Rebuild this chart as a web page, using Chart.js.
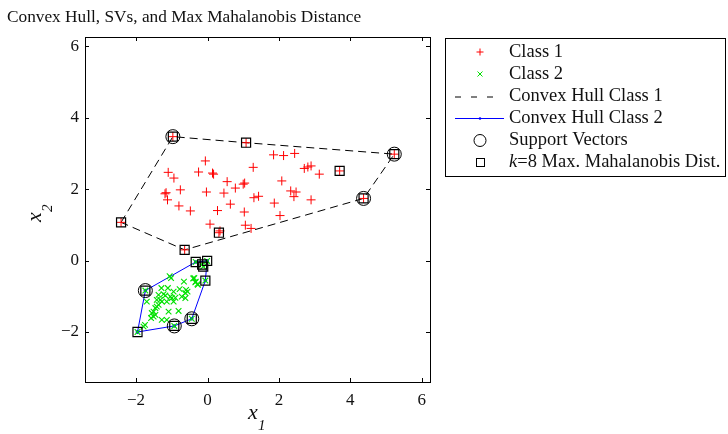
<!DOCTYPE html>
<html>
<head>
<meta charset="utf-8">
<script src="https://cdn.jsdelivr.net/npm/chart.js@4/dist/chart.umd.min.js"></script>
<style>
  html, body { margin: 0; padding: 0; background: #fff; }
  #wrap { position: relative; width: 728px; height: 434px; }
</style>
</head>
<body>
<div id="wrap"><canvas id="chart" width="728" height="434"></canvas></div>
<script>
// class 1 samples
let class1X = [1.85, 2.13, 2.44, -0.06, -1.10, -0.94, -0.25, 0.14, 0.17, 1.28, 2.71, 2.81, 2.90, 3.13,
  0.55, 1.00, 1.04, 0.78, 2.08, -0.76, -0.03, 0.46, -1.19, -1.16, -1.12, -0.80, -0.48, 0.28, 0.64,
  1.03, 1.30, 1.43, 1.87, 2.03, 2.33, 2.48, 2.42, 2.90, 0.07, 0.35, 1.06, 1.22,
  -0.97, 1.08, 5.23, 4.37, 0.32, -0.64, -2.42, 3.70]
let class1Y = [2.96, 2.94, 3.00, 2.79, 2.47, 2.31, 2.48, 2.45, 2.42, 2.61, 2.58, 2.62, 2.65, 2.42,
  2.21, 2.14, 2.17, 2.03, 2.23, 1.98, 1.92, 1.89, 1.87, 1.90, 1.70, 1.53, 1.39, 1.40, 1.58,
  1.36, 1.76, 1.80, 1.61, 1.26, 1.95, 1.92, 1.79, 1.70, 1.02, 0.83, 0.99, 0.90,
  3.47, 3.30, 2.98, 1.74, 0.78, 0.30, 1.07, 2.51]

// class 2 samples
let class2X = [-1.02, -0.66, -0.37, -0.33, -0.27, -1.29, -1.11, -0.95, -0.78, -0.60, -0.56, -0.62,
  -1.37, -1.23, -1.18, -1.04, -1.00, -0.90, -0.72, -0.62, -1.42, -1.32, -1.28, -1.14, -0.95,
  -1.37, -1.42, -1.46, -1.51, -1.56, -1.46, -1.51, -1.58, -1.09, -0.81, -1.14, -1.28, -1.75, -1.79,
  -1.70, -1.06, -0.40, -0.34, -0.28,
  -1.96, -1.74, -0.33, -0.01, -0.06, -0.44, -0.93, -0.15, -0.12]
let class2Y = [-0.49, -0.59, -0.49, -0.59, -0.68, -0.77, -0.77, -0.87, -0.80, -0.82, -0.87, -0.91,
  -0.96, -0.94, -0.98, -1.01, -1.05, -1.04, -1.01, -1.05, -1.10, -1.10, -1.15, -1.15, -1.15,
  -1.24, -1.29, -1.33, -1.43, -1.47, -1.52, -1.57, -1.61, -1.43, -1.41, -1.66, -1.66, -1.80, -1.85,
  -1.15, -0.44, -0.50, -0.61, -0.66,
  -2.00, -0.84, -0.04, -0.01, -0.56, -1.63, -1.83, -0.11, -0.17]

// convex hulls (closed)
let hull1X = [-2.42, -0.97, 1.08, 5.23, 4.37, -0.64, -2.42]
let hull1Y = [1.07, 3.47, 3.30, 2.98, 1.74, 0.30, 1.07]
let hull2X = [-1.96, -1.74, -0.33, -0.01, -0.06, -0.44, -0.93, -1.96]
let hull2Y = [-2.00, -0.84, -0.04, -0.01, -0.56, -1.63, -1.83, -2.00]

// support vectors
let svX = [-0.97, 5.23, 4.37, -1.74, -0.44, -0.93]
let svY = [3.47, 2.98, 1.74, -0.84, -1.63, -1.83]

// k=8 max mahalanobis distance points
let mahalX = [-0.97, 1.08, 5.23, 4.37, 0.32, -0.64, -2.42, 3.70,
  -1.96, -1.74, -0.33, -0.01, -0.06, -0.44, -0.93, -0.15, -0.12]
let mahalY = [3.47, 3.30, 2.98, 1.74, 0.78, 0.30, 1.07, 2.51,
  -2.00, -0.84, -0.04, -0.01, -0.56, -1.63, -1.83, -0.11, -0.17]

let tickVals = [-2, 0, 2, 4, 6]
let legendLabels = ['Class 1', 'Class 2', 'Convex Hull Class 1', 'Convex Hull Class 2', 'Support Vectors', '=8 Max. Mahalanobis Dist.']

function pts(xs, ys) {
  return xs.map((x, i) => ({ x: x, y: ys[i] }))
}

const SERIF = '"Liberation Serif", "DejaVu Serif", serif'
const RED = 'rgb(255,0,0)'
const GREEN = 'rgb(0,225,0)'
const BLUE = 'rgb(0,0,255)'

let data = {
  datasets: [{
    label: 'Class 1',
    data: pts(class1X, class1Y),
    pointStyle: 'cross',
    pointRadius: 4.5,
    borderColor: RED,
    borderWidth: 1,
    showLine: false,
    order: 3
  }, {
    label: 'Class 2',
    data: pts(class2X, class2Y),
    pointStyle: 'crossRot',
    pointRadius: 4,
    borderColor: GREEN,
    borderWidth: 1.1,
    showLine: false,
    order: 4
  }, {
    label: 'Convex Hull Class 1',
    data: pts(hull1X, hull1Y),
    showLine: true,
    borderColor: '#000',
    borderWidth: 1,
    borderDash: [8, 5],
    pointRadius: 0,
    order: 5
  }, {
    label: 'Convex Hull Class 2',
    data: pts(hull2X, hull2Y),
    showLine: true,
    borderColor: BLUE,
    borderWidth: 1,
    pointRadius: 1.3,
    pointBackgroundColor: BLUE,
    pointBorderColor: BLUE,
    order: 5
  }, {
    label: 'Support Vectors',
    data: pts(svX, svY),
    pointStyle: 'circle',
    pointRadius: 7,
    borderColor: '#000',
    backgroundColor: 'rgba(0,0,0,0)',
    borderWidth: 1,
    showLine: false,
    order: 1
  }, {
    label: 'k=8 Max. Mahalanobis Dist.',
    data: pts(mahalX, mahalY),
    pointStyle: 'rect',
    pointRadius: 6.4,
    borderColor: '#000',
    backgroundColor: 'rgba(0,0,0,0)',
    borderWidth: 1.2,
    showLine: false,
    order: 2
  }]
}

// box, inner ticks, titles and legend
const decor = {
  id: 'decor',
  afterDraw(chart) {
    let ctx = chart.ctx
    let a = chart.chartArea
    let sx = chart.scales.x, sy = chart.scales.y
    ctx.save()
    ctx.strokeStyle = '#000'
    ctx.lineWidth = 1
    ctx.strokeRect(Math.round(a.left) + 0.5, Math.round(a.top) + 0.5, Math.round(a.right - a.left), Math.round(a.bottom - a.top))
    ctx.beginPath()
    tickVals.forEach(v => {
      let px = Math.round(sx.getPixelForValue(v)) + 0.5
      ctx.moveTo(px, a.bottom); ctx.lineTo(px, a.bottom - 4)
      ctx.moveTo(px, a.top); ctx.lineTo(px, a.top + 4)
      let py = Math.round(sy.getPixelForValue(v)) + 0.5
      ctx.moveTo(a.left, py); ctx.lineTo(a.left + 4, py)
      ctx.moveTo(a.right, py); ctx.lineTo(a.right - 4, py)
    })
    ctx.stroke()

    // title
    ctx.fillStyle = '#111'
    ctx.font = '17.3px ' + SERIF
    ctx.textAlign = 'left'
    ctx.textBaseline = 'alphabetic'
    ctx.fillText('Convex Hull, SVs, and Max Mahalanobis Distance', 7, 22)

    // axis labels
    ctx.font = 'italic 22px ' + SERIF
    ctx.fillText('x', 248, 419)
    ctx.font = 'italic 15px ' + SERIF
    ctx.fillText('1', 258, 430)
    ctx.save()
    ctx.translate(41, 222)
    ctx.rotate(-Math.PI / 2)
    ctx.font = 'italic 22px ' + SERIF
    ctx.fillText('x', 0, 0)
    ctx.font = 'italic 15px ' + SERIF
    ctx.fillText('2', 10, 11)
    ctx.restore()

    // legend
    let lx = 445.5, ly = 38.5
    ctx.fillStyle = '#fff'
    ctx.fillRect(lx, ly, 280, 138)
    ctx.strokeStyle = '#000'
    ctx.strokeRect(lx, ly, 280, 138)
    let rows = [52, 74, 96.5, 118, 140.5, 162]
    let cx = 480
    ctx.lineWidth = 1
    // class 1 +
    ctx.strokeStyle = RED
    ctx.beginPath()
    ctx.moveTo(cx - 3.5, rows[0]); ctx.lineTo(cx + 3.5, rows[0])
    ctx.moveTo(cx, rows[0] - 3.5); ctx.lineTo(cx, rows[0] + 3.5)
    ctx.stroke()
    // class 2 x
    ctx.strokeStyle = GREEN
    ctx.beginPath()
    ctx.moveTo(cx - 2.5, rows[1] - 2.5); ctx.lineTo(cx + 2.5, rows[1] + 2.5)
    ctx.moveTo(cx - 2.5, rows[1] + 2.5); ctx.lineTo(cx + 2.5, rows[1] - 2.5)
    ctx.stroke()
    // hull 1 dashed
    ctx.strokeStyle = '#000'
    ctx.setLineDash([6, 10])
    ctx.beginPath()
    ctx.moveTo(455, rows[2] + 0.5); ctx.lineTo(502, rows[2] + 0.5)
    ctx.stroke()
    ctx.setLineDash([])
    // hull 2 solid blue with dot
    ctx.strokeStyle = BLUE
    ctx.fillStyle = BLUE
    ctx.beginPath()
    ctx.moveTo(455, rows[3] + 0.5); ctx.lineTo(504, rows[3] + 0.5)
    ctx.stroke()
    ctx.beginPath()
    ctx.arc(cx, rows[3] + 0.5, 1.3, 0, Math.PI * 2)
    ctx.fill()
    // circle
    ctx.strokeStyle = '#000'
    ctx.beginPath()
    ctx.arc(cx, rows[4], 6, 0, Math.PI * 2)
    ctx.stroke()
    // square
    ctx.strokeRect(cx - 3.5, rows[5] - 3.5, 8, 8)

    ctx.fillStyle = '#111'
    ctx.font = '18.5px ' + SERIF
    ctx.textBaseline = 'middle'
    legendLabels.forEach((t, i) => {
      if (i == 5) {
        ctx.font = 'italic 18.5px ' + SERIF
        ctx.fillText('k', 509, rows[i])
        let w = ctx.measureText('k').width
        ctx.font = '18.5px ' + SERIF
        ctx.fillText(t, 509 + w, rows[i])
      } else {
        ctx.fillText(t, 509, rows[i])
      }
    })
    ctx.restore()
  }
}

const config = {
  type: 'scatter',
  data: data,
  plugins: [decor],
  options: {
    responsive: false,
    animation: false,
    events: [],
    layout: { padding: { top: 37, left: 0, right: 298, bottom: 0 } },
    plugins: {
      legend: { display: false },
      tooltip: { enabled: false },
      title: { display: false }
    },
    scales: {
      x: {
        type: 'linear',
        min: -3.43,
        max: 6.23,
        afterBuildTicks: (s) => { s.ticks = tickVals.map(v => ({ value: v })) },
        afterFit: (s) => { s.height = 52 },
        grid: { display: false, drawTicks: false },
        border: { display: false },
        ticks: {
          padding: 8,
          color: '#111',
          font: { family: SERIF, size: 17 },
          callback: (v) => v < 0 ? '\u2212' + Math.abs(v) : '' + v
        }
      },
      y: {
        type: 'linear',
        min: -3.4,
        max: 6.26,
        afterBuildTicks: (s) => { s.ticks = tickVals.map(v => ({ value: v })) },
        afterFit: (s) => { s.width = 85 },
        grid: { display: false, drawTicks: false },
        border: { display: false },
        ticks: {
          padding: 6,
          color: '#111',
          font: { family: SERIF, size: 17 },
          callback: (v) => v < 0 ? '\u2212' + Math.abs(v) : '' + v
        }
      }
    }
  }
}

const chart = new Chart(document.getElementById('chart'), config)
</script>
</body>
</html>
